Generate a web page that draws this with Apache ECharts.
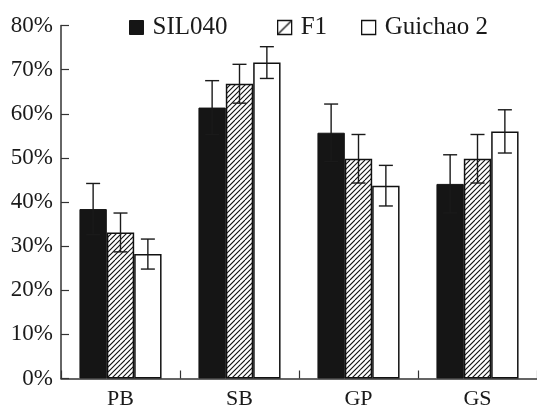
<!DOCTYPE html>
<html>
<head>
<meta charset="utf-8">
<script src="https://cdn.jsdelivr.net/npm/echarts@6/dist/echarts.min.js"></script>
<style>
html,body{margin:0;padding:0;background:#fff;}
#chart{width:537px;height:411px;}
</style>
</head>
<body>
<div id="chart"></div>
<script>
const categories = ['PB', 'SB', 'GP', 'GS'];
const seriesNames = ['SIL040', 'F1', 'Guichao 2'];
const sil040 = [38.4, 61.4, 55.7, 44.1];
const sil040Err = [5.8, 6.1, 6.5, 6.6];
const f1 = [33.1, 66.8, 49.8, 49.8];
const f1Err = [4.4, 4.4, 5.5, 5.5];
const guichao2 = [28.2, 71.6, 43.7, 56.0];
const guichao2Err = [3.4, 3.6, 4.6, 4.9];
const yTicks = [0, 10, 20, 30, 40, 50, 60, 70, 80];

const FONT = "'Liberation Serif', 'Times New Roman', serif";

function hatchPattern() {
  const c = document.createElement('canvas');
  c.width = 20; c.height = 20;
  const ctx = c.getContext('2d');
  ctx.fillStyle = '#fff';
  ctx.fillRect(0, 0, 20, 20);
  ctx.strokeStyle = '#111';
  ctx.lineWidth = 1.1;
  for (let k = -20; k <= 20; k += 5) {
    ctx.beginPath();
    ctx.moveTo(k, 20);
    ctx.lineTo(k + 20, 0);
    ctx.stroke();
  }
  return { image: c, repeat: 'repeat' };
}

function legendDiagPattern(size) {
  const c = document.createElement('canvas');
  c.width = size; c.height = size;
  const ctx = c.getContext('2d');
  ctx.fillStyle = '#fff';
  ctx.fillRect(0, 0, size, size);
  ctx.strokeStyle = '#111';
  ctx.lineWidth = 1.3;
  ctx.beginPath();
  ctx.moveTo(0, size);
  ctx.lineTo(size, 0);
  ctx.stroke();
  return { image: c, repeat: 'no-repeat' };
}

const values = [sil040, f1, guichao2];
const errs = [sil040Err, f1Err, guichao2Err];
const errData = [];
values.forEach((arr, si) => {
  arr.forEach((v, ci) => {
    errData.push([ci, v - errs[si][ci], v + errs[si][ci], si]);
  });
});

const BAR_FRAC = 0.23;
const ICON = 14;
const styles = [
  { color: '#151515', borderColor: '#151515', borderWidth: 1 },
  { color: hatchPattern(), borderColor: '#111', borderWidth: 1.5 },
  { color: '#ffffff', borderColor: '#111', borderWidth: 1.5 }
];
const legendItemStyles = [
  { color: '#151515', borderColor: '#151515', borderWidth: 1 },
  { color: legendDiagPattern(ICON), borderColor: '#111', borderWidth: 1.3 },
  { color: '#ffffff', borderColor: '#111', borderWidth: 1.3 }
];

const chart = echarts.init(document.getElementById('chart'), null, { renderer: 'canvas' });
const legendLefts = [124, 272, 356];
const option = {
  animation: false,
  backgroundColor: '#fff',
  textStyle: { fontFamily: FONT },
  grid: { left: 61, top: 25.5, width: 480, height: 353 },
  legend: seriesNames.map((n, i) => ({
    data: [{ name: n, itemStyle: legendItemStyles[i] }],
    left: legendLefts[i],
    top: 10,
    icon: 'rect',
    itemWidth: ICON,
    itemHeight: ICON,
    textStyle: { fontFamily: FONT, fontSize: 25, color: '#1a1a1a', padding: [0, 0, 0, 4] }
  })),
  xAxis: {
    type: 'category',
    data: categories,
    boundaryGap: true,
    axisLine: { lineStyle: { color: '#333', width: 1.5 } },
    axisTick: { show: true, inside: true, length: 8, alignWithLabel: false, lineStyle: { color: '#333', width: 1.2 } },
    axisLabel: { fontFamily: FONT, fontSize: 22, color: '#1a1a1a', margin: 10 }
  },
  yAxis: {
    type: 'value',
    min: yTicks[0],
    max: yTicks[yTicks.length - 1],
    interval: yTicks[1] - yTicks[0],
    splitLine: { show: false },
    axisLine: { show: true, lineStyle: { color: '#333', width: 1.5 } },
    axisTick: { show: true, inside: true, length: 8, lineStyle: { color: '#333', width: 1.2 } },
    axisLabel: { fontFamily: FONT, fontSize: 23, color: '#1a1a1a', margin: 8, formatter: '{value}%' }
  },
  series: [
    ...seriesNames.map((n, i) => ({
      name: n,
      type: 'bar',
      data: values[i],
      barWidth: (BAR_FRAC * 100) + '%',
      barGap: '0%',
      itemStyle: styles[i]
    })),
    {
      name: 'err',
      type: 'custom',
      z: 5,
      data: errData,
      encode: { x: 0, y: [1, 2] },
      renderItem: function (params, api) {
        const ci = api.value(0);
        const lo = api.value(1);
        const hi = api.value(2);
        const si = api.value(3);
        const band = api.size([1, 0])[0];
        const bw = band * BAR_FRAC;
        const pHi = api.coord([ci, hi]);
        const pLo = api.coord([ci, lo]);
        const x = pHi[0] + (si - 1) * bw;
        const half = 7;
        const st = { stroke: '#1a1a1a', lineWidth: 1.4, fill: null };
        return {
          type: 'group',
          children: [
            { type: 'line', shape: { x1: x, y1: pHi[1], x2: x, y2: pLo[1] }, style: st },
            { type: 'line', shape: { x1: x - half, y1: pHi[1], x2: x + half, y2: pHi[1] }, style: st },
            { type: 'line', shape: { x1: x - half, y1: pLo[1], x2: x + half, y2: pLo[1] }, style: st }
          ]
        };
      }
    }
  ]
};
chart.setOption(option);
</script>
</body>
</html>
